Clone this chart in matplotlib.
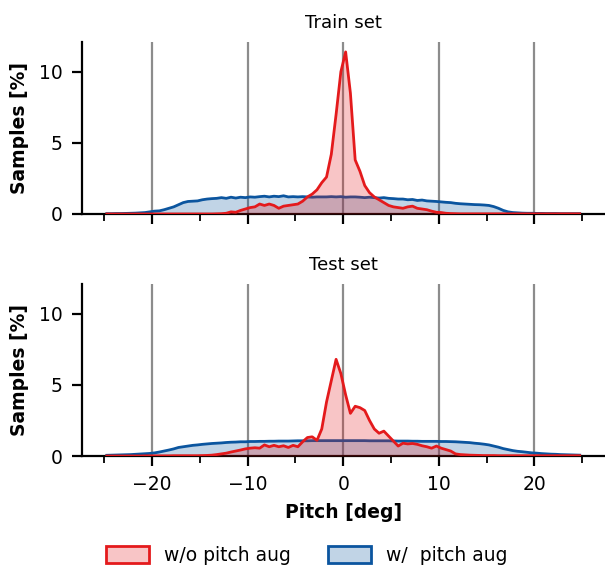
import numpy as np
import matplotlib
matplotlib.use("Agg")
import matplotlib.pyplot as plt
from matplotlib.patches import Patch
from matplotlib.ticker import MultipleLocator

# Pitch bin centres (deg)
pitch = np.arange(-24.75, 24.76, 0.5)

train_wo_aug = [
    0, 0, 0, 0, 0, 0, 0, 0, 0, 0,
    0, 0, 0, 0, 0, 0, 0, 0, 0, 0,
    0, 0, 0, 0.01,
    # -12.75 ...
    0.02, 0.05, 0.15, 0.12, 0.25, 0.35, 0.45, 0.5, 0.7, 0.6,
    0.7, 0.6, 0.4, 0.55, 0.6, 0.65, 0.7, 0.9, 1.2, 1.4,
    1.7, 2.2, 2.6, 4.2, 7.0, 10.0, 11.4, 8.5, 3.8, 3.0,
    2.0, 1.5, 1.2, 1.0, 0.8, 0.6, 0.5, 0.45, 0.4, 0.5,
    0.55, 0.4, 0.35, 0.3, 0.2, 0.12, 0.1, 0.05, 0.03, 0.02,
    # 12.25 ...
    0.01, 0.01, 0.01, 0.01, 0.01, 0.01, 0.01, 0.01, 0.01, 0.01,
    0.01, 0.01, 0.01, 0.01, 0.01, 0.01, 0.01, 0.01, 0.01, 0.01,
    0.01, 0.01, 0.01, 0.01, 0.01, 0.01,
]

train_w_aug = [
    0.02, 0.02, 0.03, 0.03, 0.04, 0.05, 0.06, 0.08, 0.1, 0.15,
    0.2, 0.22, 0.3, 0.4, 0.5, 0.65, 0.8, 0.88, 0.9, 0.92,
    1.0, 1.05, 1.08, 1.1, 1.15, 1.1, 1.18, 1.12, 1.18, 1.15,
    1.2, 1.18, 1.22, 1.25, 1.2, 1.25, 1.22, 1.28, 1.2, 1.22,
    1.2, 1.22, 1.2, 1.18, 1.2, 1.2, 1.2, 1.22, 1.2, 1.22,
    1.18, 1.2, 1.2, 1.18, 1.15, 1.18, 1.15, 1.12, 1.15, 1.1,
    1.08, 1.05, 1.05, 1.0, 1.02, 0.95, 0.98, 0.92, 0.9, 0.88,
    0.85, 0.82, 0.8, 0.75, 0.72, 0.7, 0.68, 0.66, 0.65, 0.63,
    0.6, 0.52, 0.4, 0.25, 0.15, 0.1, 0.08, 0.06, 0.05, 0.05,
    0.04, 0.04, 0.03, 0.03, 0.03, 0.02, 0.02, 0.02, 0.02, 0.02,
]

test_wo_aug = [
    0, 0, 0, 0, 0, 0, 0, 0, 0.01, 0.01,
    0.01, 0.01, 0.01, 0.01, 0.02, 0.02, 0.02, 0.02, 0.02, 0.02,
    # -14.75 ...
    0.03, 0.04, 0.06, 0.1, 0.15, 0.2, 0.28, 0.35, 0.42, 0.5,
    0.55, 0.58, 0.55, 0.78, 0.65, 0.75, 0.65, 0.72, 0.6, 0.75,
    0.65, 1.0, 1.3, 1.35, 1.1, 1.9, 3.8, 5.3, 6.8, 5.8,
    4.3, 3.0, 3.5, 3.4, 3.2, 2.5, 1.9, 1.6, 1.75, 1.4,
    1.05, 0.7, 0.9, 0.85, 0.88, 0.82, 0.72, 0.65, 0.55, 0.7,
    0.55, 0.45, 0.35, 0.15, 0.1, 0.08, 0.06, 0.05, 0.04, 0.03,
    # 15.25 ...
    0.03, 0.03, 0.02, 0.02, 0.02, 0.02, 0.02, 0.02, 0.02, 0.02,
    0.02, 0.02, 0.02, 0.02, 0.02, 0.02, 0.02, 0.02, 0.02, 0.02,
]

test_w_aug = [
    0.05, 0.06, 0.07, 0.08, 0.09, 0.1, 0.12, 0.14, 0.16, 0.18,
    0.22, 0.28, 0.35, 0.42, 0.5, 0.6, 0.65, 0.7, 0.75, 0.78,
    0.82, 0.85, 0.88, 0.9, 0.92, 0.95, 0.97, 0.98, 1.0, 1.0,
    1.02, 1.02, 1.03, 1.03, 1.04, 1.04, 1.05, 1.05, 1.05, 1.06,
    1.07, 1.07, 1.07, 1.08, 1.08, 1.08, 1.08, 1.08, 1.08, 1.08,
    1.08, 1.08, 1.08, 1.08, 1.08, 1.07, 1.07, 1.07, 1.07, 1.07,
    1.06, 1.05, 1.05, 1.05, 1.04, 1.04, 1.03, 1.03, 1.03, 1.03,
    1.02, 1.02, 1.01, 1.0, 0.98, 0.96, 0.94, 0.9, 0.87, 0.83,
    0.78, 0.7, 0.62, 0.52, 0.45, 0.38, 0.33, 0.3, 0.26, 0.22,
    0.2, 0.17, 0.15, 0.13, 0.12, 0.1, 0.09, 0.08, 0.07, 0.06,
]

titles = ["Train set", "Test set"]
series_labels = ["w/o pitch aug", "w/  pitch aug"]
major_ticks_x = [-20, -10, 0, 10, 20]
yticks = [0, 5, 10]

RED = "#e41a1c"
BLUE = "#0b559f"
FS = 13.5

plt.rcParams["font.family"] = "DejaVu Sans"

fig = plt.figure(figsize=(6.05, 5.70), dpi=100)
ax1 = fig.add_axes([0.1355, 0.6246, 0.8645, 0.3018])
ax2 = fig.add_axes([0.1355, 0.2000, 0.8645, 0.3018], sharex=ax1)

panels = [(ax1, train_wo_aug, train_w_aug), (ax2, test_wo_aug, test_w_aug)]
for ax, (a, wo, w), title in zip([ax1, ax2], panels, titles):
    for xv in major_ticks_x:
        ax.axvline(xv, color="gray", lw=1.6, alpha=0.9, zorder=0)
    ax.fill_between(pitch, w, color=BLUE, alpha=0.25, lw=0, zorder=1)
    ax.plot(pitch, w, color=BLUE, lw=2, zorder=2)
    ax.fill_between(pitch, wo, color=RED, alpha=0.25, lw=0, zorder=3)
    ax.plot(pitch, wo, color=RED, lw=2, zorder=4)
    ax.set_xlim(-27.35, 27.4)
    ax.set_ylim(0, 12.1)
    ax.set_yticks(yticks)
    ax.xaxis.set_major_locator(MultipleLocator(10))
    ax.xaxis.set_minor_locator(MultipleLocator(5))
    ax.spines["top"].set_visible(False)
    ax.spines["right"].set_visible(False)
    for s in ["left", "bottom"]:
        ax.spines[s].set_linewidth(1.6)
    ax.tick_params(axis="both", which="major", length=7, width=1.6,
                   labelsize=FS, pad=7)
    ax.tick_params(axis="x", which="minor", length=4.8, width=1.3)
    ax.set_title(title, fontsize=13, pad=10)
    ax.set_ylabel("Samples [%]", fontsize=FS, fontweight="bold", labelpad=7)

ax1.tick_params(axis="x", labelbottom=False)
ax2.set_xlabel("Pitch [deg]", fontsize=FS, fontweight="bold", labelpad=6)

handles = [
    Patch(facecolor=matplotlib.colors.to_rgba(RED, 0.25), edgecolor=RED, lw=2),
    Patch(facecolor=matplotlib.colors.to_rgba(BLUE, 0.25), edgecolor=BLUE, lw=2),
]
fig.legend(handles, series_labels, loc="center", bbox_to_anchor=(0.507, 0.026),
           ncol=2, frameon=False, fontsize=FS, columnspacing=2.0,
           handlelength=2.3, handleheight=1.0, handletextpad=0.8)

fig.savefig("out.png", dpi=100)
